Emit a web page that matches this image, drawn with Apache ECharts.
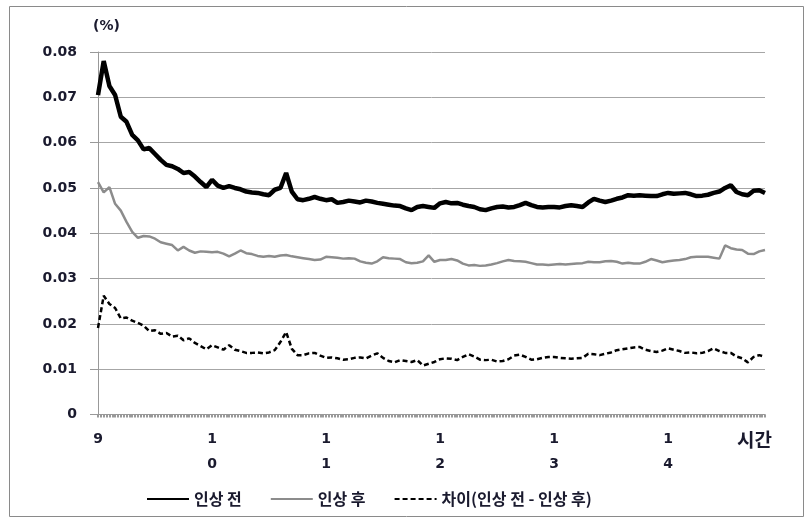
<!DOCTYPE html>
<html><head><meta charset="utf-8">
<script src="https://cdn.jsdelivr.net/npm/echarts@6/dist/echarts.min.js"></script>
<style>html,body{margin:0;padding:0;background:#fff}#c{width:808px;height:523px}</style>
</head><body><div id="c"></div>
<script>
// 3-minute observations from 9:00 to 14:51
const hourLabels = ['9', '1\n0', '1\n1', '1\n2', '1\n3', '1\n4'];
const yTicks = [0, 0.01, 0.02, 0.03, 0.04, 0.05, 0.06, 0.07, 0.08];
const seriesNames = ['인상 전', '인상 후', '차이(인상 전 - 인상 후)'];

const before = [
0.0705,0.0780,0.0725,0.0705,0.0657,0.0646,0.0617,0.0605,0.0585,0.0588,
0.0575,0.0562,0.0551,0.0548,0.0542,0.0533,0.0535,0.0525,0.0513,0.0502,
0.0518,0.0505,0.0500,0.0504,0.0500,0.0497,0.0492,0.0490,0.0489,0.0486,
0.0484,0.0496,0.0500,0.0533,0.0492,0.0475,0.0473,0.0476,0.0480,0.0476,
0.0473,0.0475,0.0467,0.0469,0.0472,0.0470,0.0468,0.0472,0.0470,0.0467,
0.0465,0.0463,0.0461,0.0460,0.0455,0.0451,0.0458,0.0460,0.0458,0.0456,
0.0466,0.0469,0.0466,0.0467,0.0463,0.0460,0.0458,0.0453,0.0451,0.0455,
0.0458,0.0459,0.0457,0.0458,0.0462,0.0467,0.0462,0.0458,0.0457,0.0458,
0.0458,0.0457,0.0460,0.0462,0.0460,0.0458,0.0468,0.0476,0.0472,0.0469,
0.0472,0.0476,0.0479,0.0484,0.0483,0.0484,0.0483,0.0482,0.0482,0.0486,
0.0489,0.0487,0.0488,0.0489,0.0486,0.0482,0.0483,0.0485,0.0489,0.0492,
0.0500,0.0506,0.0491,0.0486,0.0484,0.0494,0.0495,0.0489];

const after = [
0.0513,0.0490,0.0502,0.0465,0.0450,0.0425,0.0403,0.0390,0.0394,0.0393,
0.0388,0.0380,0.0377,0.0374,0.0362,0.0370,0.0362,0.0357,0.0360,0.0359,
0.0358,0.0359,0.0355,0.0349,0.0355,0.0362,0.0356,0.0354,0.0350,0.0348,
0.0350,0.0348,0.0351,0.0352,0.0349,0.0347,0.0345,0.0343,0.0341,0.0342,
0.0348,0.0347,0.0346,0.0344,0.0345,0.0344,0.0338,0.0335,0.0333,0.0338,
0.0347,0.0345,0.0344,0.0343,0.0336,0.0334,0.0335,0.0338,0.0351,0.0337,
0.0341,0.0341,0.0343,0.0340,0.0333,0.0329,0.0330,0.0328,0.0329,0.0331,
0.0334,0.0338,0.0341,0.0339,0.0338,0.0337,0.0334,0.0331,0.0331,0.0330,
0.0331,0.0332,0.0331,0.0332,0.0333,0.0334,0.0337,0.0336,0.0336,0.0338,
0.0339,0.0337,0.0333,0.0335,0.0333,0.0333,0.0337,0.0343,0.0340,0.0336,
0.0338,0.0340,0.0341,0.0343,0.0347,0.0348,0.0348,0.0348,0.0346,0.0344,
0.0373,0.0367,0.0364,0.0363,0.0355,0.0354,0.0360,0.0363];

const diff = [
0.0191,0.0262,0.0244,0.0235,0.0212,0.0214,0.0207,0.0202,0.0196,0.0184,
0.0186,0.0178,0.0180,0.0172,0.0174,0.0164,0.0168,0.0158,0.0151,0.0144,
0.0153,0.0148,0.0143,0.0153,0.0143,0.0140,0.0136,0.0136,0.0137,0.0135,
0.0137,0.0142,0.0160,0.0182,0.0145,0.0131,0.0131,0.0135,0.0136,0.0130,
0.0125,0.0126,0.0124,0.0121,0.0122,0.0125,0.0126,0.0124,0.0130,0.0135,
0.0125,0.0118,0.0115,0.0120,0.0118,0.0116,0.0120,0.0108,0.0112,0.0116,
0.0122,0.0124,0.0123,0.0120,0.0127,0.0133,0.0128,0.0121,0.0120,0.0121,
0.0117,0.0118,0.0122,0.0130,0.0132,0.0127,0.0121,0.0122,0.0125,0.0127,
0.0127,0.0125,0.0124,0.0123,0.0124,0.0125,0.0134,0.0133,0.0131,0.0134,
0.0137,0.0142,0.0144,0.0146,0.0148,0.0149,0.0143,0.0140,0.0138,0.0141,
0.0146,0.0143,0.0140,0.0136,0.0137,0.0135,0.0136,0.0140,0.0146,0.0140,
0.0136,0.0136,0.0128,0.0124,0.0115,0.0127,0.0131,0.0127];

const times = before.map((_, i) => {
  const m = 9 * 60 + i * 3;
  return Math.floor(m / 60) + ':' + String(m % 60).padStart(2, '0');
});

const chart = echarts.init(document.getElementById('c'));
const txt = '#1a1a2e';
const font = 'DejaVu Sans';
chart.setOption({
  animation: false,
  backgroundColor: '#fff',
  grid: { left: 98, right: 43, top: 52, bottom: 108.5 },
  xAxis: [{
    type: 'category', data: times, boundaryGap: false,
    axisLine: { lineStyle: { color: '#999', width: 1 } },
    axisTick: { show: false },
    axisLabel: {
      interval: (idx) => idx % 20 === 0,
      formatter: (v, idx) => hourLabels[idx / 20],
      color: txt, fontFamily: font, fontSize: 14, fontWeight: 'bold',
      lineHeight: 25, margin: 12, verticalAlign: 'top'
    },
    splitLine: { show: false }
  }, {
    type: 'value', min: 0, max: 351, interval: 1.5, position: 'bottom',
    axisLine: { show: false },
    axisTick: { show: true, inside: false, length: 3, lineStyle: { color: '#999', width: 2 } },
    axisLabel: { show: false }, splitLine: { show: false }
  }],
  yAxis: {
    type: 'value', min: 0, max: 0.08, interval: 0.01,
    axisLine: { show: true, lineStyle: { color: '#999' } },
    axisTick: { show: true, length: 8, lineStyle: { color: '#999' } },
    axisLabel: {
      color: txt, fontFamily: font, fontSize: 14, fontWeight: 'bold', margin: 21,
      formatter: (v) => { const t = yTicks.find(x => Math.abs(x - v) < 1e-9); return t === 0 ? '0' : t.toFixed(2); }
    },
    splitLine: { lineStyle: { color: '#a6a6a6', width: 1 } }
  },
  legend: {
    top: 486, left: 141, itemGap: 28, itemWidth: 42, itemHeight: 10,
    itemStyle: { opacity: 0 },
    textStyle: { color: txt, fontFamily: 'Noto Sans CJK KR', fontSize: 16, fontWeight: 'bold' },
    data: seriesNames
  },
  series: [
    { name: seriesNames[0], type: 'line', data: before, symbol: 'none', smooth: false,
      lineStyle: { color: '#000', width: 4.5 }, itemStyle: { color: '#000' } },
    { name: seriesNames[1], type: 'line', data: after, symbol: 'none',
      lineStyle: { color: '#8c8c8c', width: 2.5 }, itemStyle: { color: '#8c8c8c' } },
    { name: seriesNames[2], type: 'line', data: diff, symbol: 'none',
      lineStyle: { color: '#000', width: 2.5, type: [5, 3] }, itemStyle: { color: '#000' } }
  ],
  graphic: [
    { type: 'rect', left: 7, top: 4, shape: { width: 794, height: 510 },
      style: { fill: 'none', stroke: '#8a8a8a', lineWidth: 1 }, silent: true, z: -1 },
    { type: 'text', left: 93, top: 19,
      style: { text: '(%)', fill: txt, font: 'bold 14px "DejaVu Sans"' } },
    { type: 'text', left: 737, top: 430,
      style: { text: '시간', fill: txt, font: 'bold 19px "Noto Sans CJK KR"' } }
  ]
});
</script></body></html>
